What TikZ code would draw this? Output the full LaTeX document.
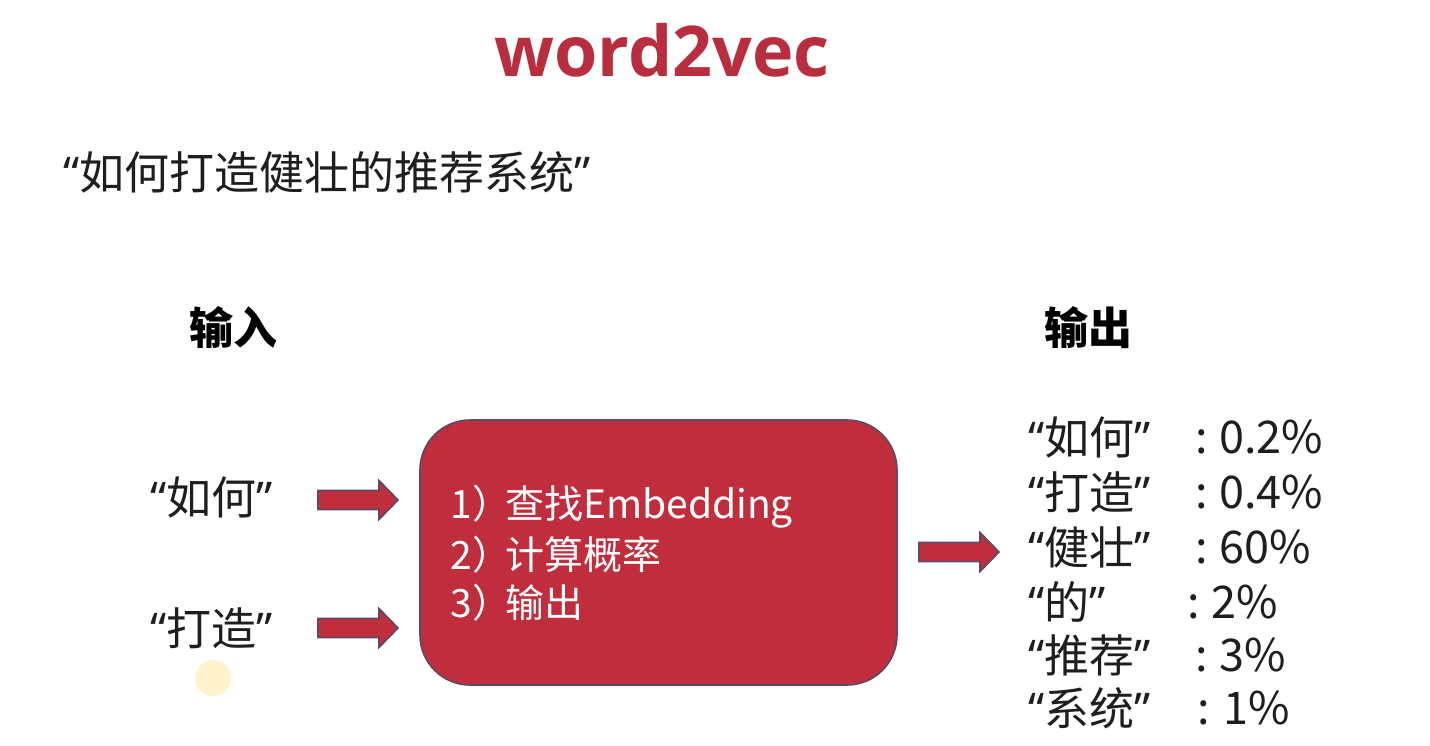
\documentclass[tikz,border=0pt]{standalone}
\usepackage{fontspec}
\setmainfont{Noto Sans CJK SC}
\newfontfamily\titlefont{Open Sans}
\newfontfamily\quotefont{Noto Sans}
\newcommand{\myoq}{{\quotefont “}}
\newcommand{\mycq}{{\quotefont ”}}
\definecolor{wvred}{RGB}{184,46,62}
\definecolor{boxred}{RGB}{192,46,62}
\definecolor{edgepurple}{RGB}{92,72,104}
\definecolor{textdark}{RGB}{30,30,30}
\definecolor{cursorhalo}{RGB}{255,243,206}
\tikzset{
  x=0.5pt, y=-0.5pt,
  heading/.style={font=\fontsize{22}{26}\selectfont\bfseries, text=black, inner sep=0pt},
  plain/.style={font=\fontsize{22.5}{27}\selectfont, text=textdark, inner sep=0pt, anchor=west},
  boxline/.style={font=\fontsize{19.5}{24}\selectfont, text=white, inner sep=0pt, anchor=west},
  blockarrow/.pic={
    \filldraw[fill=boxred, draw=edgepurple, line width=0.8pt, line join=miter]
      (0,-9.5) -- (61,-9.5) -- (61,-19.5) -- (80,0) -- (61,19.5) -- (61,9.5) -- (0,9.5) -- cycle;
  }
}
\begin{document}
\begin{tikzpicture}
\useasboundingbox (0,0) rectangle (1430,745);
\fill[white] (0,0) rectangle (1430,745);

% title and question
\node[font=\titlefont\fontsize{35}{40}\selectfont\bfseries, text=wvred, inner sep=0pt] (title) at (662,50) {word2vec};
\node[plain] (question) at (63,172) {\myoq 如何打造健壮的推荐系统\mycq};

% column headings
\node[heading] (inhead) at (233,328) {输入};
\node[heading] (outhead) at (1088,328) {输出};

% input words
\node[plain] (in1) at (150,497) {\myoq 如何\mycq};
\node[plain] (in2) at (150,628) {\myoq 打造\mycq};
\fill[cursorhalo] (213,678) circle (18);

% model box
\draw[fill=boxred, draw=edgepurple, line width=0.8pt, rounded corners=25pt]
  (420,420) rectangle (897,685);
\node[boxline] (step1) at (450,507) {1）\hspace{-0.15em}查找Embedding};
\node[boxline] (step2) at (450,555) {2）\hspace{-0.15em}计算概率};
\node[boxline] (step3) at (450,603) {3）\hspace{-0.15em}输出};

% block arrows
\pic at (318,500) {blockarrow};
\pic at (318,628) {blockarrow};
\pic at (919,552) {blockarrow};

% output probabilities
\node[plain] (w1) at (1028,437) {\myoq 如何\mycq};
\node[plain] (w2) at (1028,492) {\myoq 打造\mycq};
\node[plain] (w3) at (1028,547) {\myoq 健壮\mycq};
\node[plain] (w4) at (1028,602) {\myoq 的\mycq};
\node[plain] (w5) at (1028,655) {\myoq 推荐\mycq};
\node[plain] (w6) at (1028,708) {\myoq 系统\mycq};
\node[plain] (p1) at (1195,437) {:\hspace{0.25em}0.2\%};
\node[plain] (p2) at (1195,492) {:\hspace{0.25em}0.4\%};
\node[plain] (p3) at (1195,547) {:\hspace{0.25em}60\%};
\node[plain] (p4) at (1187,602) {:\hspace{0.25em}2\%};
\node[plain] (p5) at (1195,655) {:\hspace{0.25em}3\%};
\node[plain] (p6) at (1197,708) {:\hspace{0.3em}1\%};
\end{tikzpicture}
\end{document}
